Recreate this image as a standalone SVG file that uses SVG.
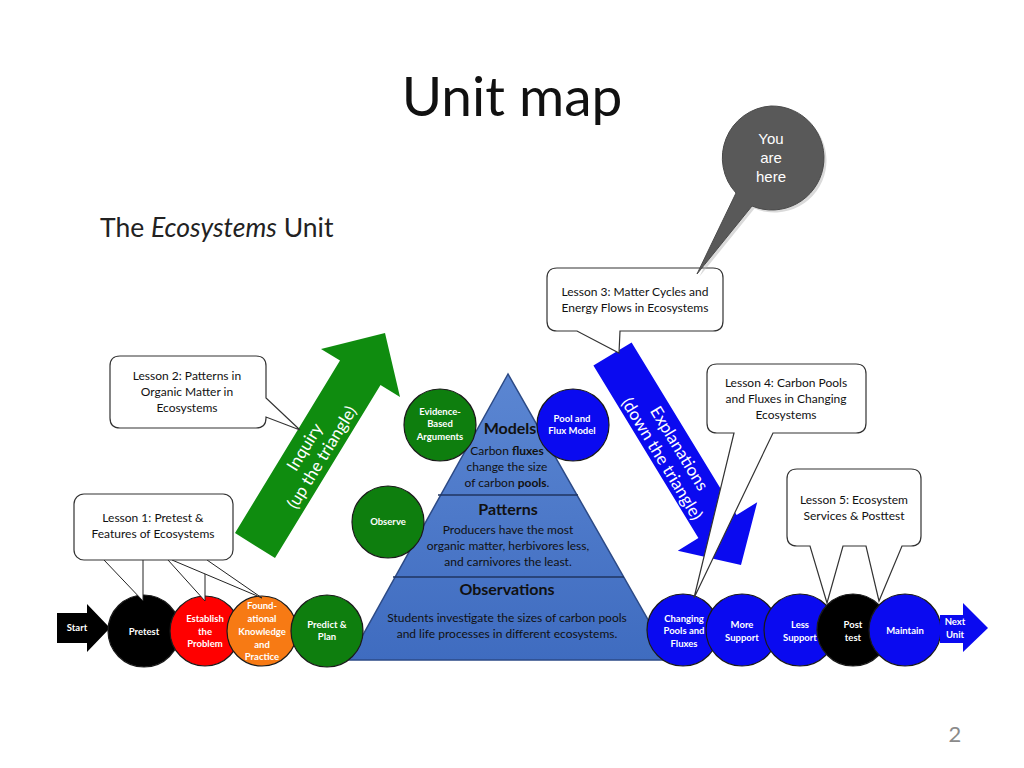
<svg xmlns="http://www.w3.org/2000/svg" width="1024" height="768" viewBox="0 0 1024 768">
<defs>
<linearGradient id="pyr" x1="0" y1="0" x2="0" y2="1">
<stop offset="0" stop-color="#5b86d2"/>
<stop offset="1" stop-color="#3f6cc0"/>
</linearGradient>
<style>
.t{font-family:Lato,"Open Sans","Liberation Sans",sans-serif;}
.box{fill:#fff;stroke:#333;stroke-width:1.2;}
.bt{font-family:Lato,"Open Sans","Liberation Sans",sans-serif;font-size:12px;fill:#111;text-anchor:middle;}
.ct{font-family:Lato,"Open Sans","Liberation Sans",sans-serif;font-size:9.5px;font-weight:bold;fill:#fff;text-anchor:middle;}
.pt{font-family:Lato,"Open Sans","Liberation Sans",sans-serif;font-size:12px;fill:#111;text-anchor:middle;}
.ph{font-family:Lato,"Open Sans","Liberation Sans",sans-serif;font-size:16px;font-weight:bold;fill:#111;text-anchor:middle;}
.cir{stroke:#1a1a1a;stroke-width:1.2;}
.green{fill:#0e7e0e;}
.blue{fill:#0a0af0;}
.tail{fill:#fff;stroke:#222;stroke-width:1;}
</style>
</defs>
<rect width="1024" height="768" fill="#fff"/>

<text class="t" x="512" y="116" font-size="55" text-anchor="middle" fill="#111">Unit map</text>
<text class="t" x="100" y="237" font-size="26.5" fill="#222">The <tspan font-style="italic">Ecosystems</tspan> Unit</text>
<text class="t" x="955" y="742" font-size="22" fill="#8a8a8a" text-anchor="middle">2</text>

<g id="pyramid">
<polygon points="508,374 349,660 671,660" fill="url(#pyr)" stroke="#2c4a86" stroke-width="1.5"/>
<line x1="438" y1="495" x2="578" y2="495" stroke="#1f3560" stroke-width="1.5"/>
<line x1="393" y1="577" x2="624" y2="577" stroke="#1f3560" stroke-width="1.5"/>
<text class="ph" x="510" y="434">Models</text>
<text class="pt" x="507" y="455">Carbon <tspan font-weight="bold">fluxes</tspan></text>
<text class="pt" x="507" y="471">change the size</text>
<text class="pt" x="507" y="487">of carbon <tspan font-weight="bold">pools</tspan>.</text>
<text class="ph" x="508" y="515">Patterns</text>
<text class="pt" x="508" y="534">Producers have the most</text>
<text class="pt" x="508" y="550">organic matter, herbivores less,</text>
<text class="pt" x="508" y="566">and carnivores the least.</text>
<text class="ph" x="507" y="595">Observations</text>
<text class="pt" x="507" y="622">Students investigate the sizes of carbon pools</text>
<text class="pt" x="507" y="638">and life processes in different ecosystems.</text>
</g>

<g id="inquiry-arrow">
<polygon points="235,533 340,360.5 321,349 385,333 400,397 380.5,385 275,558" fill="#0f8c0f"/>
<g transform="translate(313,452) rotate(-58.5)">
<text class="t" x="0" y="-4" font-size="17" fill="#fff" text-anchor="middle">Inquiry</text>
<text class="t" x="0" y="16" font-size="17" fill="#fff" text-anchor="middle">(up the triangle)</text>
</g>
</g>

<g id="explanations-arrow">
<polygon points="593.4,365.6 631.6,342.4 736.6,514.9 757.2,502.3 741,565 677.8,550.7 698.4,538.1" fill="#0a0af0"/>
<g transform="translate(670,454) rotate(58.7)">
<text class="t" x="0" y="-5" font-size="17" fill="#fff" text-anchor="middle">Explanations</text>
<text class="t" x="0" y="15" font-size="17" fill="#fff" text-anchor="middle">(down the triangle)</text>
</g>
</g>

<g id="evidence">
<circle class="cir green" cx="440" cy="425" r="36"/>
<text class="ct" x="440" y="415">Evidence-</text>
<text class="ct" x="440" y="427">Based</text>
<text class="ct" x="440" y="440">Arguments</text>
</g>
<g id="poolflux">
<circle class="cir blue" cx="573" cy="425" r="36"/>
<text class="ct" x="572" y="422">Pool and</text>
<text class="ct" x="572" y="434">Flux Model</text>
</g>
<g id="observe">
<circle class="cir green" cx="388" cy="522" r="36"/>
<text class="ct" x="388" y="525">Observe</text>
</g>

<g id="start">
<polygon points="57,613 87,613 87,604 110,628 87,652 87,643 57,643" fill="#000"/>
<text class="ct" x="77" y="631">Start</text>
</g>
<g id="pretest">
<circle class="cir" cx="144" cy="631" r="36" fill="#000"/>
<text class="ct" x="144" y="635" font-size="10.5">Pretest</text>
</g>
<g id="establish">
<circle class="cir" cx="205" cy="631" r="35" fill="#f00"/>
<text class="ct" x="205" y="622">Establish</text>
<text class="ct" x="205" y="635">the</text>
<text class="ct" x="205" y="647">Problem</text>
</g>
<g id="foundational">
<circle class="cir" cx="262" cy="631" r="35" fill="#f77a14"/>
<text class="ct" x="262" y="609">Found-</text>
<text class="ct" x="262" y="622">ational</text>
<text class="ct" x="262" y="635">Knowledge</text>
<text class="ct" x="262" y="648">and</text>
<text class="ct" x="262" y="660">Practice</text>
</g>
<g id="predict">
<circle class="cir green" cx="327" cy="631" r="36"/>
<text class="ct" x="327" y="628">Predict &amp;</text>
<text class="ct" x="327" y="640">Plan</text>
</g>

<g id="changing">
<circle class="cir blue" cx="683" cy="630" r="36"/>
<text class="ct" x="684" y="622">Changing</text>
<text class="ct" x="684" y="634">Pools and</text>
<text class="ct" x="684" y="647">Fluxes</text>
</g>
<g id="more">
<circle class="cir blue" cx="742" cy="630" r="36"/>
<text class="ct" x="742" y="628">More</text>
<text class="ct" x="742" y="641">Support</text>
</g>
<g id="less">
<circle class="cir blue" cx="800" cy="630" r="36"/>
<text class="ct" x="800" y="628">Less</text>
<text class="ct" x="800" y="641">Support</text>
</g>
<g id="posttest">
<circle class="cir" cx="853" cy="630" r="36" fill="#000"/>
<text class="ct" x="853" y="628">Post</text>
<text class="ct" x="853" y="641">test</text>
</g>
<g id="maintain">
<circle class="cir blue" cx="905" cy="630" r="36"/>
<text class="ct" x="905" y="634">Maintain</text>
</g>
<g id="next">
<polygon points="940,615 963,615 963,603 988,628 963,652 963,643 940,643" fill="#0a0af0"/>
<text class="ct" x="955" y="625">Next</text>
<text class="ct" x="955" y="638">Unit</text>
</g>

<g id="connectors">
<polyline class="tail" points="104,560 143,601 143,560"/>
<polyline class="tail" points="168,560 205,601 205,560"/>
<polyline class="tail" points="172,560 262,598 207,560"/>
</g>

<g id="lesson1">
<rect class="box" x="74" y="494" width="159" height="66" rx="10"/>
<text class="bt" x="153" y="522">Lesson 1: Pretest &amp;</text>
<text class="bt" x="153" y="538">Features of Ecosystems</text>
</g>
<g id="lesson2">
<path class="box" d="M120,356 H256 Q266,356 266,366 V398 L300,430 L266,417 V418 Q266,428 256,428 H120 Q110,428 110,418 V366 Q110,356 120,356 Z"/>
<text class="bt" x="187" y="380">Lesson 2: Patterns in</text>
<text class="bt" x="187" y="396">Organic Matter in</text>
<text class="bt" x="187" y="412">Ecosystems</text>
</g>
<g id="lesson3">
<path class="box" d="M557,268 H713 Q723,268 723,278 V321 Q723,331 713,331 H620 L619,353 L577,331 H557 Q547,331 547,321 V278 Q547,268 557,268 Z"/>
<text class="bt" x="635" y="296">Lesson 3: Matter Cycles and</text>
<text class="bt" x="635" y="312">Energy Flows in Ecosystems</text>
</g>
<g id="lesson4">
<path class="box" d="M717,364 H856 Q866,364 866,374 V423 Q866,433 856,433 H773 L694,598 L734,433 H717 Q707,433 707,423 V374 Q707,364 717,364 Z"/>
<text class="bt" x="786" y="387">Lesson 4: Carbon Pools</text>
<text class="bt" x="786" y="403">and Fluxes in Changing</text>
<text class="bt" x="786" y="419">Ecosystems</text>
</g>
<g id="lesson5">
<path class="box" d="M797,469 H911 Q921,469 921,479 V536 Q921,546 911,546 H902 L879,601 L866,546 H843 L827,603 L810,546 H797 Q787,546 787,536 V479 Q787,469 797,469 Z"/>
<text class="bt" x="854" y="504">Lesson 5: Ecosystem</text>
<text class="bt" x="854" y="520">Services &amp; Posttest</text>
</g>

<g id="you-are-here">
<path d="M772,107 A52,52 0 1 1 753,207 L698,275 L737,194 A52,52 0 0 1 772,107 Z" fill="#b5b5b5" transform="translate(1.5,1.5)" opacity="0.5"/>
<path d="M771,106 A52,52 0 1 1 752,206 L697,274 L736,193 A52,52 0 0 1 771,106 Z" fill="#595959" stroke="#4a4a4a" stroke-width="1"/>
<text x="771" y="144" font-family="Liberation Sans,Arial,sans-serif" font-size="15" fill="#fff" text-anchor="middle">You</text>
<text x="771" y="163" font-family="Liberation Sans,Arial,sans-serif" font-size="15" fill="#fff" text-anchor="middle">are</text>
<text x="771" y="182" font-family="Liberation Sans,Arial,sans-serif" font-size="15" fill="#fff" text-anchor="middle">here</text>
</g>
</svg>
